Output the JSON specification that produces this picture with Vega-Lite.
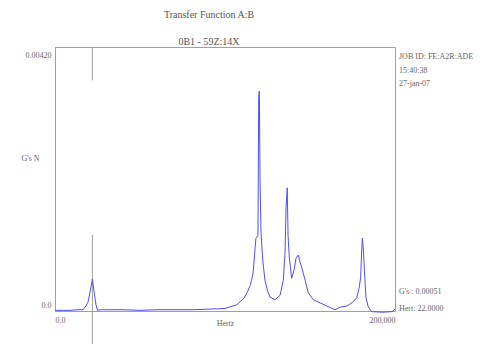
{
  "$schema": "https://vega.github.io/schema/vega-lite/v6.json",
  "autosize": {"type": "none"},
  "padding": {"left": 55, "top": 47, "right": 90, "bottom": 33},
  "width": 340,
  "height": 264,
  "background": "white",
  "config": {
    "font": "Liberation Serif",
    "view": {"stroke": "#a0a0a0", "strokeWidth": 1},
    "axis": {"grid": false, "ticks": false, "domainColor": "#a0a0a0", "labelColor": "#666", "titleColor": "#666", "labelFont": "Liberation Serif", "titleFont": "Liberation Serif", "labelFontSize": 8, "titleFontSize": 8, "titleFontWeight": "normal"}
  },
  "title": {
    "text": "Transfer Function A:B",
    "subtitle": "0B1 - 59Z:14X",
    "anchor": "middle",
    "dx": -16,
    "offset": 0,
    "font": "Liberation Serif",
    "subtitleFont": "Liberation Serif",
    "fontSize": 10,
    "subtitleFontSize": 10,
    "fontWeight": "normal",
    "color": "#555",
    "subtitleColor": "#555",
    "subtitlePadding": 17
  },
  "layer": [
    {
      "data": {"values": [{}]},
      "mark": {"type": "rule", "color": "#a0a0a0", "strokeWidth": 1},
      "encoding": {
        "x": {"datum": 22, "type": "quantitative"},
        "y": {"datum": 0.0042, "type": "quantitative"},
        "y2": {"datum": 0.00367}
      }
    },
    {
      "data": {"values": [{}]},
      "mark": {"type": "rule", "color": "#a0a0a0", "strokeWidth": 1},
      "encoding": {
        "x": {"datum": 22, "type": "quantitative"},
        "y": {"datum": 0.00121, "type": "quantitative"},
        "y2": {"datum": -0.00053}
      }
    },
    {
      "data": {"values": [
        {"f": 0, "g": 0.00001}, {"f": 5, "g": 0.00001}, {"f": 8.8, "g": 0.00001}, {"f": 13, "g": 0.00002},
        {"f": 16.5, "g": 0.00002}, {"f": 18.2, "g": 0.00008}, {"f": 19.4, "g": 0.00014}, {"f": 20.6, "g": 0.0003},
        {"f": 22, "g": 0.00051}, {"f": 23, "g": 0.0003}, {"f": 24.1, "g": 0.0001}, {"f": 25, "g": 0.00001},
        {"f": 26.5, "g": 0.00002}, {"f": 32.4, "g": 0.00002}, {"f": 40, "g": 0.00002}, {"f": 50, "g": 0.00001},
        {"f": 60, "g": 0.00002}, {"f": 70, "g": 0.00002}, {"f": 80, "g": 0.00002}, {"f": 91.2, "g": 0.00003},
        {"f": 100, "g": 0.00004}, {"f": 107, "g": 0.0001}, {"f": 111, "g": 0.0002}, {"f": 113, "g": 0.00029},
        {"f": 115, "g": 0.00042}, {"f": 116.5, "g": 0.0006}, {"f": 118.2, "g": 0.00116}, {"f": 119.4, "g": 0.0012},
        {"f": 119.8, "g": 0.0034}, {"f": 120.2, "g": 0.0035}, {"f": 120.6, "g": 0.0021}, {"f": 121.2, "g": 0.00124},
        {"f": 122.2, "g": 0.00081}, {"f": 123.5, "g": 0.00049}, {"f": 125, "g": 0.00032}, {"f": 126.5, "g": 0.00022},
        {"f": 129.4, "g": 0.00018}, {"f": 132.4, "g": 0.00025}, {"f": 134.3, "g": 0.00049}, {"f": 135.3, "g": 0.00092},
        {"f": 135.9, "g": 0.00164}, {"f": 136.6, "g": 0.00196}, {"f": 137.1, "g": 0.0012}, {"f": 137.8, "g": 0.00086},
        {"f": 139.2, "g": 0.00052}, {"f": 140.6, "g": 0.00065}, {"f": 141.8, "g": 0.00084}, {"f": 143.1, "g": 0.00089},
        {"f": 144.1, "g": 0.00078}, {"f": 145.1, "g": 0.0007}, {"f": 147.1, "g": 0.00049}, {"f": 149, "g": 0.00029},
        {"f": 151.9, "g": 0.00018}, {"f": 155.9, "g": 0.00013}, {"f": 160.6, "g": 0.00007}, {"f": 164.7, "g": 0.00002},
        {"f": 167.6, "g": 0.00006}, {"f": 171.6, "g": 0.00008}, {"f": 174.7, "g": 0.00013}, {"f": 177.5, "g": 0.00021},
        {"f": 179, "g": 0.00038}, {"f": 179.8, "g": 0.00054}, {"f": 180.3, "g": 0.00089}, {"f": 180.8, "g": 0.00116},
        {"f": 181.4, "g": 0.00097}, {"f": 182, "g": 0.00065}, {"f": 182.9, "g": 0.00022}, {"f": 184.1, "g": 0.00008},
        {"f": 185.3, "g": 0.00002}, {"f": 186.5, "g": -0.00001}, {"f": 192.4, "g": -0.00002}, {"f": 198.2, "g": -0.00001},
        {"f": 200, "g": 0.00003}
      ]},
      "mark": {"type": "line", "color": "#5050f5", "strokeWidth": 1, "interpolate": "linear"},
      "encoding": {
        "x": {"field": "f", "type": "quantitative", "scale": {"domain": [0, 200], "nice": false, "zero": false},
          "axis": {"values": [0, 200], "labelExpr": "datum.value == 0 ? '0.0' : '200.000'", "labelFlush": true, "labelPadding": 5, "title": "Hertz", "titleY": 12, "titleBaseline": "middle", "titleX": 170}},
        "y": {"field": "g", "type": "quantitative", "scale": {"domain": [0, 0.0042], "nice": false, "zero": false},
          "axis": {"values": [0, 0.0042], "labelExpr": "datum.value == 0 ? '0.0' : '0.00420'", "labelFlush": false, "labelBaseline": "middle", "labelOffset": {"expr": "datum.value == 0 ? -6 : 8"}, "labelPadding": 4, "title": "G's N", "titleAngle": 0, "titleAlign": "center", "titleBaseline": "middle", "titleX": -25, "titleY": 111}}
      }
    },
    {
      "data": {"values": [{}]},
      "mark": {"type": "text", "align": "left", "baseline": "top", "dx": 4, "dy": 6, "fontSize": 8, "lineHeight": 13.5, "color": "#666", "font": "Liberation Serif"},
      "encoding": {
        "x": {"datum": 200, "type": "quantitative"},
        "y": {"datum": 0.0042, "type": "quantitative"},
        "text": {"value": ["JOB ID: FE:A2R:ADE", "15:40:38", "27-jan-07"]}
      }
    },
    {
      "data": {"values": [{}]},
      "mark": {"type": "text", "align": "left", "baseline": "bottom", "dx": 4, "dy": -15, "fontSize": 8, "lineHeight": 17, "color": "#666", "font": "Liberation Serif"},
      "encoding": {
        "x": {"datum": 200, "type": "quantitative"},
        "y": {"datum": 0, "type": "quantitative"},
        "text": {"value": ["G's : 0.00051", "Hert: 22.0000"]}
      }
    }
  ]
}
